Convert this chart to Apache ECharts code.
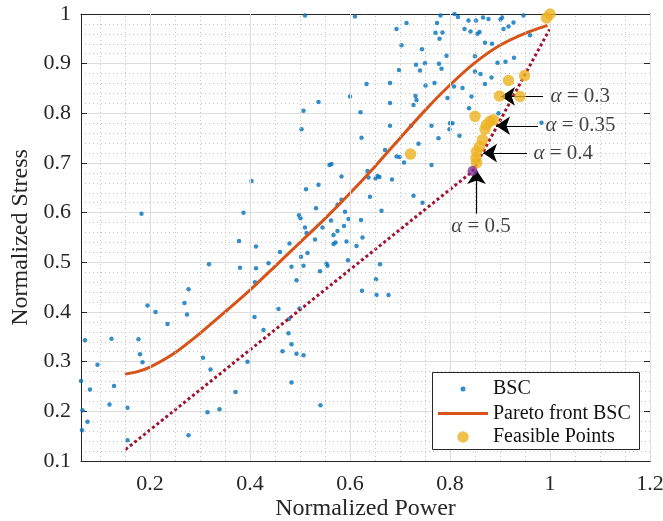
<!DOCTYPE html>
<html>
<head>
<meta charset="utf-8">
<script src="https://cdn.jsdelivr.net/npm/echarts@6/dist/echarts.min.js"></script>
<style>
  html, body { margin: 0; padding: 0; background: #fff; }
  #main { width: 663px; height: 521px; }
</style>
</head>
<body>
<div id="main"></div>
<script>
// BSC cloud (normalized power, normalized stress)
var bscPoints = [
  [0.062,0.261],[0.070,0.343],[0.065,0.202],[0.075,0.179],[0.064,0.162],[0.080,0.244],[0.095,0.294],
  [0.123,0.346],[0.119,0.214],[0.128,0.251],[0.155,0.207],[0.155,0.142],[0.177,0.345],[0.180,0.315],
  [0.185,0.299],[0.183,0.598],[0.195,0.413],[0.211,0.400],[0.235,0.376],[0.269,0.418],[0.274,0.395],
  [0.277,0.446],[0.277,0.152],[0.306,0.308],[0.318,0.496],[0.321,0.284],[0.315,0.198],[0.339,0.204],
  [0.371,0.239],[0.378,0.543],[0.380,0.489],[0.387,0.600],[0.395,0.300],[0.403,0.664],[0.412,0.532],
  [0.412,0.488],[0.410,0.460],[0.409,0.390],[0.427,0.364],[0.437,0.498],
  [0.457,0.406],[0.460,0.521],[0.465,0.321],[0.477,0.357],[0.478,0.386],[0.479,0.538],[0.483,0.491],
  [0.483,0.335],[0.483,0.258],[0.493,0.464],[0.493,0.316],[0.499,0.407],[0.502,0.511],[0.507,0.493],
  [0.507,0.313],[0.515,0.519],[0.498,0.595],[0.501,0.589],[0.510,0.570],[0.513,0.559],[0.512,0.647],
  [0.532,0.609],[0.530,0.546],[0.545,0.570],[0.540,0.482],[0.541,0.212],[0.553,0.497],[0.555,0.493],
  [0.562,0.584],[0.567,0.555],[0.571,0.540],[0.567,0.537],[0.575,0.563],[0.588,0.573],[0.590,0.602],
  [0.593,0.542],[0.597,0.587],[0.596,0.504],[0.613,0.533],[0.622,0.585],[0.625,0.550],[0.583,0.626],
  [0.575,0.616],[0.640,0.632],[0.663,0.604],[0.660,0.496],[0.652,0.466],[0.624,0.443],[0.653,0.434],
  [0.677,0.434],[0.537,0.656],[0.583,0.673],[0.559,0.696],[0.563,0.698],[0.635,0.684],[0.637,0.671],
  [0.651,0.669],[0.655,0.674],[0.659,0.672],[0.684,0.667],[0.670,0.726],[0.693,0.713],[0.699,0.712],
  [0.708,0.701],[0.623,0.751],[0.680,0.775],[0.621,0.802],[0.503,0.768],[0.507,0.805],[0.537,0.823],
  [0.600,0.834],[0.680,0.821],[0.633,0.859],[0.680,0.861],[0.510,0.997],[0.610,0.995],
  [0.693,0.970],[0.713,0.982],[0.703,0.937],[0.744,0.929],[0.774,0.982],[0.781,0.997],[0.809,1.000],
  [0.816,0.994],[0.837,0.987],[0.852,0.987],[0.866,0.993],[0.877,0.990],[0.901,0.989],[0.904,0.993],
  [0.947,0.997],[0.771,0.962],[0.785,0.963],[0.779,0.950],[0.829,0.970],[0.841,0.965],[0.855,0.960],
  [0.859,0.964],[0.907,0.970],[0.917,0.975],[0.927,0.983],[0.960,0.957],[0.870,0.942],[0.884,0.940],
  [0.793,0.916],[0.732,0.898],[0.750,0.901],[0.778,0.900],[0.783,0.890],[0.698,0.887],[0.740,0.886],
  [0.751,0.856],[0.769,0.861],[0.850,0.915],[0.895,0.902],[0.911,0.904],[0.928,0.912],[0.850,0.884],
  [0.861,0.879],[0.883,0.872],[0.870,0.859],[0.808,0.854],[0.825,0.851],[0.843,0.834],[0.795,0.831],
  [0.731,0.835],[0.733,0.827],[0.727,0.817],[0.838,0.810],[0.897,0.800],[0.800,0.780],[0.805,0.780],
  [0.799,0.768],[0.722,0.775],[0.763,0.775],[0.777,0.750],[0.819,0.755],[0.737,0.739],[0.763,0.696],
  [0.727,0.634],[0.745,0.620],[0.983,0.781]
];

// Pareto front of the BSC cloud
var paretoFront = [
  [0.150,0.275],[0.175,0.280],[0.200,0.289],[0.250,0.318],[0.300,0.357],[0.350,0.400],[0.400,0.444],
  [0.450,0.492],[0.500,0.540],[0.550,0.588],[0.600,0.639],[0.650,0.693],[0.700,0.750],
  [0.750,0.806],[0.800,0.857],[0.850,0.902],[0.900,0.937],[0.950,0.961],[0.995,0.977]
];

// dotted red line
var dottedLine = [[0.151,0.123],[0.845,0.683],[0.999,0.969]];

var feasiblePoints = [
  [1.000,1.000],[0.993,0.992],[0.949,0.876],[0.917,0.866],[0.899,0.835],[0.940,0.834],
  [0.850,0.794],[0.887,0.787],[0.880,0.784],[0.873,0.777],[0.870,0.768],[0.865,0.747],
  [0.859,0.733],[0.853,0.723],[0.852,0.710],[0.853,0.700],[0.721,0.718]
];
var alphaHalfPoint = [[0.845,0.684]];

// annotations
var alphaLabels = ['α = 0.3', 'α = 0.35', 'α = 0.4', 'α = 0.5'];
var arrowTails = [[0.986,0.834],[0.976,0.775],[0.954,0.720],[0.853,0.598]];
var arrowTips = [[0.902,0.834],[0.892,0.775],[0.866,0.720],[0.853,0.686]];
var labelAnchors = [[1.000,0.833],[0.990,0.775],[0.966,0.720],[0.862,0.573]];

var xTicks = [0.2, 0.4, 0.6, 0.8, 1, 1.2];
var xMinorGrid = [0.1,0.15,0.25,0.3,0.35,0.45,0.5,0.55,0.65,0.7,0.75,0.85,0.9,0.95,1.05,1.1,1.15];

var FONT = 'Liberation Serif';
var AX = '#262626';

var chart = echarts.init(document.getElementById('main'), null, {renderer: 'canvas'});

function xAxisBase(pos) {
  return {
    type: 'value', position: pos, min: 0.062, max: 1.2,
    axisLine: {show: true, onZero: false, lineStyle: {color: AX, width: 1}},
    axisTick: {show: true, inside: true, length: 6, customValues: xTicks, lineStyle: {color: AX}},
    axisLabel: {show: pos === 'bottom', customValues: xTicks, margin: 12,
      color: '#262626', fontFamily: FONT, fontSize: 22},
    splitLine: {show: false}
  };
}
function yAxisBase(pos) {
  return {
    type: 'value', position: pos, min: 0.1, max: 1, interval: 0.1,
    axisLine: {show: true, onZero: false, lineStyle: {color: AX, width: 1}},
    axisTick: {show: true, inside: true, length: 6, lineStyle: {color: AX}},
    axisLabel: {show: pos === 'left', margin: 10, color: '#262626', fontFamily: FONT, fontSize: 22},
    splitLine: {show: pos === 'left', lineStyle: {color: '#dedede', width: 1}},
    minorTick: {show: false, splitNumber: 5},
    minorSplitLine: {show: pos === 'left', lineStyle: {color: '#c4c4c4', width: 1, type: [1, 3]}}
  };
}

var xa = xAxisBase('bottom');
xa.name = 'Normalized Power';
xa.nameLocation = 'middle';
xa.nameGap = 36;
xa.nameMoveOverlap = false;
xa.nameTextStyle = {fontFamily: FONT, fontSize: 24, color: '#262626'};
var ya = yAxisBase('left');
ya.name = 'Normalized Stress';
ya.nameLocation = 'middle';
ya.nameGap = 36;
ya.nameTextStyle = {fontFamily: FONT, fontSize: 24, color: '#262626'};

var gridLines = xTicks.map(function (v) {
  return {xAxis: v, lineStyle: {color: '#dedede', width: 1, type: 'solid'}};
}).concat(xMinorGrid.map(function (v) {
  return {xAxis: v, lineStyle: {color: '#c4c4c4', width: 1, type: [1, 3]}};
}));

var arrows = arrowTails.map(function (t, i) {
  return [{coord: t}, {coord: arrowTips[i]}];
});

var labelData = labelAnchors.map(function (p, i) {
  var last = i === alphaLabels.length - 1;
  return {
    value: p,
    label: {
      show: true,
      position: last ? 'inside' : 'right',
      distance: 0,
      align: last ? 'center' : 'left',
      verticalAlign: 'middle',
      formatter: alphaLabels[i].replace('α', '{i|α}'),
      fontFamily: FONT, fontSize: 21, color: '#111',
      rich: {i: {fontFamily: FONT, fontStyle: 'italic', fontSize: 21, color: '#111'}}
    }
  };
});

var legendText = {fontFamily: FONT, fontSize: 20, color: '#111', lineHeight: 22};

var option = {
  animation: false,
  backgroundColor: '#fff',
  grid: {left: 81, right: 13, top: 14, bottom: 60, containLabel: false, outerBoundsMode: 'none'},
  xAxis: [xa, xAxisBase('top')],
  yAxis: [ya, yAxisBase('right')],
  graphic: [{
    type: 'rect', z: 50, silent: true,
    shape: {x: 432.5, y: 372.5, width: 207, height: 77},
    style: {fill: '#fff', stroke: '#262626', lineWidth: 1}
  }],
  legend: [
    {data: ['BSC'], left: 460.5, top: 378, padding: 0, z: 60, itemWidth: 50, itemHeight: 5,
      icon: 'circle', textStyle: legendText, selectedMode: false},
    {data: ['Pareto front BSC'], left: 438, top: 402.5, padding: 0, z: 60, itemWidth: 50, itemHeight: 3,
      icon: 'rect', textStyle: legendText, selectedMode: false},
    {data: ['Feasible Points'], left: 457.25, top: 426, padding: 0, z: 60, itemWidth: 50, itemHeight: 11.5,
      icon: 'circle', textStyle: legendText, selectedMode: false}
  ],
  series: [
    {
      name: 'grid', type: 'line', data: [], z: 1, silent: true,
      markLine: {silent: true, symbol: 'none', label: {show: false}, animation: false, data: gridLines}
    },
    {
      name: 'BSC', type: 'scatter', data: bscPoints, symbol: 'circle', symbolSize: 4.5, z: 3,
      itemStyle: {color: '#0072BD'}
    },
    {
      name: 'Pareto front BSC', type: 'line', data: paretoFront, smooth: 0.2,
      symbol: 'none', z: 4,
      lineStyle: {color: '#D95319', width: 3}, itemStyle: {color: '#D95319'}
    },
    {
      name: 'hull', type: 'line', data: dottedLine, symbol: 'none', z: 4,
      lineStyle: {color: '#A2142F', width: 3, type: [3, 2.7]}
    },
    {
      name: 'Feasible Points', type: 'scatter', data: feasiblePoints, symbol: 'circle', symbolSize: 11.5, z: 5,
      itemStyle: {color: '#EDB120'}
    },
    {
      name: 'alpha 0.5', type: 'scatter', data: alphaHalfPoint, symbol: 'circle', symbolSize: 10, z: 6,
      itemStyle: {color: '#7E2F8E'}
    },
    {
      name: 'arrows', type: 'line', data: [], z: 7, silent: true,
      markLine: {
        silent: true, symbol: ['none', 'arrow'], symbolSize: 14, label: {show: false}, animation: false,
        lineStyle: {color: '#000', width: 1.2, type: 'solid'},
        data: arrows
      }
    },
    {
      name: 'labels', type: 'scatter', data: labelData, symbolSize: 1, z: 8, silent: true,
      itemStyle: {color: 'rgba(0,0,0,0)'}
    }
  ]
};

chart.setOption(option);
</script>
</body>
</html>
